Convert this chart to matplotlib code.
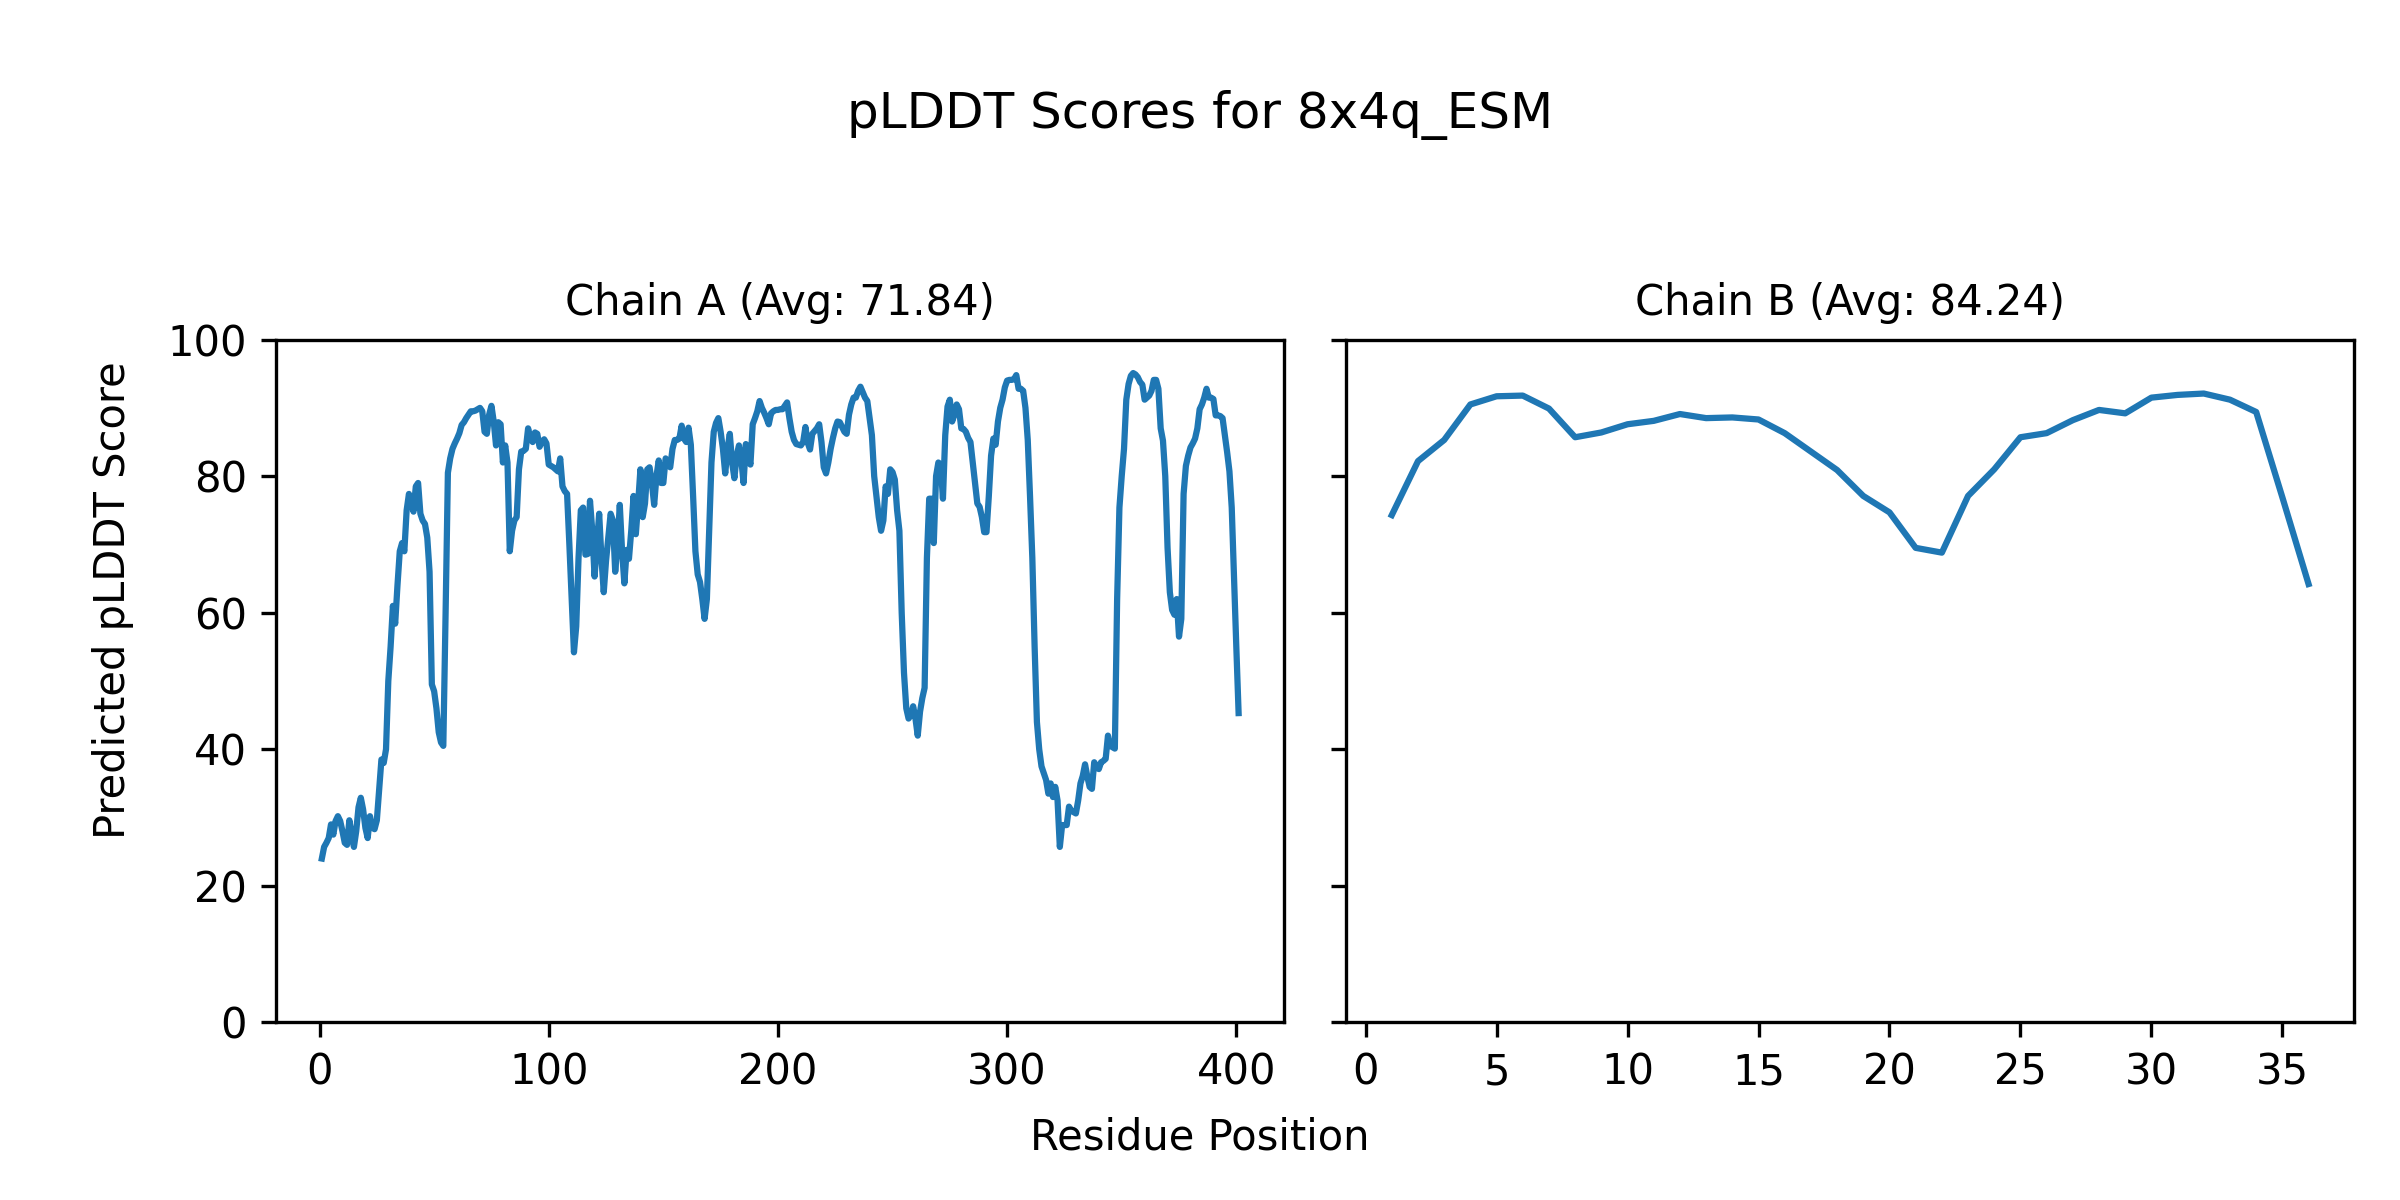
import numpy as np
from matplotlib import pyplot as plt

# plot title and chain info
model_name = '8x4q_ESM'
chain_names = ['A', 'B']
chain_avgs = [71.84, 84.24]

# per-residue pLDDT, chain A (residues 1..401)
plddt_a = [
    24, 25.7, 26.3, 27, 29, 27.5, 29.5, 30.2, 29.5, 28,
    26.3, 26, 29.6, 27.6, 25.7, 28, 31.5, 32.9, 31.2, 28.5,
    27, 30.2, 28.5, 28.3, 29.6, 34, 38.5, 38, 40, 50,
    55, 61, 58.4, 64, 69, 70.2, 69, 75, 77.4, 76,
    74.8, 78.5, 79, 74.5, 73.5, 73, 71, 66, 49.5, 48.5,
    46, 42.5, 41, 40.5, 60, 80.5, 82.6, 84, 84.8, 85.5,
    86.3, 87.5, 87.9, 88.5, 89, 89.5, 89.5, 89.6, 89.8, 90,
    89.5, 86.5, 86.2, 89, 90.3, 88, 84.5, 87.9, 87.6, 82,
    84.5, 82, 69, 72, 73.5, 74, 81, 83.6, 83.7, 84,
    87, 85.5, 85, 86.4, 86.2, 84.3, 85, 85.4, 84.8, 81.7,
    81.5, 81.3, 81, 80.7, 82.6, 78.5, 77.8, 77.4, 70, 62,
    54.2, 58, 68, 75, 75.4, 68.5, 68.6, 76.4, 72, 65.3,
    70, 74.5, 68, 63, 67.6, 71, 74.5, 73.5, 66, 70,
    75.8, 69, 64.3, 69.2, 67.9, 72, 77.1, 71.5, 76, 81,
    74, 76, 81, 81.3, 79, 75.8, 80, 82.3, 79, 79,
    82.6, 82, 81.3, 84, 85.3, 85.3, 85.5, 87.4, 85.5, 85,
    87.1, 84.6, 77, 69, 65.6, 64.5, 62, 59.1, 62, 72,
    82, 86.5, 87.8, 88.5, 86.5, 84, 80.4, 84, 86.2, 82,
    79.7, 83, 84.5, 82.5, 79, 84.7, 83, 81.7, 87.6, 88.5,
    89.5, 91, 90, 89.3, 88.5, 87.6, 89.2, 89.5, 89.7, 89.7,
    89.8, 89.8, 90.3, 90.8, 88.5, 86.5, 85.3, 84.7, 84.6, 84.5,
    85, 87.2, 84.9, 83.9, 86.2, 86.6, 87, 87.6, 85, 81.3,
    80.4, 82, 84, 85.6, 87, 88, 87.9, 87.2, 86.5, 86.2,
    89, 90.5, 91.5, 91.5, 92.5, 93.1, 92.3, 91.5, 91, 88.5,
    86, 80, 77, 74, 72, 73.5, 78.5, 77.4, 81, 80.6,
    79.5, 75, 72, 60, 51.2, 46, 44.5, 45, 46.3, 44.5,
    42, 45.5, 47.5, 49, 68, 76.7, 76.7, 70.2, 80, 82,
    81.7, 76.7, 86, 90.2, 91.2, 88, 89, 90.5, 89.8, 87,
    86.9, 86.5, 85.6, 85, 82, 79, 76, 75.5, 74, 71.8,
    71.8, 77, 83, 85.5, 84.6, 88, 90, 91.2, 93, 94,
    94.1, 94.1, 94.2, 94.8, 92.8, 92.8, 92.5, 90, 85.3, 77,
    68, 55, 44, 40, 37.5, 36.5, 35.5, 33.5, 35, 33,
    34.5, 32.5, 25.7, 28.9, 28.9, 28.9, 31.6, 31, 30.8, 30.6,
    32.5, 35, 36.1, 37.8, 36, 34.5, 34.2, 38.1, 37.5, 37.1,
    38.1, 38.3, 38.6, 42, 40.5, 40.3, 40.1, 62, 75.4, 80,
    84, 91.2, 93.5, 94.7, 95.1, 94.9, 94.5, 93.8, 93.4, 91.2,
    91.5, 91.8, 92.5, 94.1, 94.1, 92.8, 87, 85.2, 80, 69.5,
    63, 60.4, 59.7, 62, 56.5, 59.1, 77.4, 81.5, 83, 84.2,
    84.8, 85.5, 87, 89.8, 90.5, 91.5, 92.8, 91.5, 91.5, 91.3,
    88.9, 88.9, 88.8, 88.5, 86, 83.5, 80.7, 75.4, 65, 55, 45.3,
]

# per-residue pLDDT, chain B (residues 1..36)
plddt_b = [
    74.3, 82.2, 85.3, 90.5, 91.7, 91.8, 89.9, 85.7, 86.4, 87.6,
    88.1, 89.1, 88.5, 88.6, 88.3, 86.3, 83.6, 80.9, 77.1, 74.7,
    69.5, 68.8, 77.1, 81.0, 85.7, 86.3, 88.2, 89.7, 89.2, 91.5,
    91.9, 92.1, 91.2, 89.4, 76.9, 64.2,
]

chains = [plddt_a, plddt_b]

fig, axes = plt.subplots(1, 2, figsize=(8, 4), sharey=True)
plt.subplots_adjust(left=0.115, right=0.981, bottom=0.148, top=0.717, wspace=0.061)

for ax, name, avg, scores in zip(axes, chain_names, chain_avgs, chains):
    x = np.arange(1, len(scores) + 1)
    ax.plot(x, scores, color='#1f77b4', linewidth=1.5)
    ax.set_title('Chain %s (Avg: %.2f)' % (name, avg), fontsize=10)
    ax.set_ylim(0, 100)

fig.suptitle('pLDDT Scores for %s' % model_name, fontsize=12, y=0.904, va='center')
# shared axis labels placed on the figure
fig.text(0.5, 0.052, 'Residue Position', ha='center', va='center', fontsize=10)
fig.text(0.047, 0.5, 'Predicted pLDDT Score', ha='center', va='center',
         rotation='vertical', fontsize=10)

plt.savefig('out.png', dpi=300)
